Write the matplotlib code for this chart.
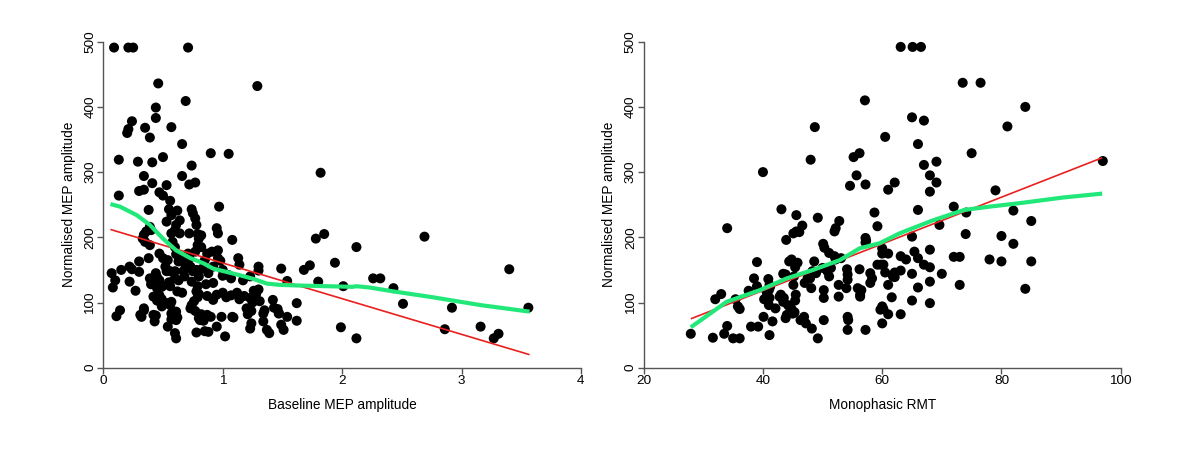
import matplotlib
matplotlib.use("Agg")
import matplotlib.pyplot as plt

plt.rcParams['font.family'] = ['Liberation Sans', 'DejaVu Sans']

# ---------------- Left panel data: Baseline MEP amplitude vs normalised MEP ----------------
base_x = [
    0.09, 0.21, 0.25, 0.71, 0.46, 1.29, 0.69, 0.44, 0.44, 0.24, 0.21, 0.20, 0.35, 0.57, 0.39, 0.66,
    0.13, 0.29, 0.41, 0.50, 0.74, 0.90, 1.05, 1.82, 0.34, 0.66, 0.41, 0.53, 0.72, 0.77, 0.30, 0.34,
    0.47, 0.50, 0.56, 0.13,
    0.97, 0.38, 0.55, 0.62, 0.74, 0.57, 0.64, 0.75, 0.77, 0.53, 0.61, 0.78, 0.39, 0.36, 0.40, 0.34,
    0.60, 0.64, 0.57, 0.72, 0.95, 0.96, 1.85, 2.69, 0.79, 0.82,
    1.08, 0.33, 0.35, 0.39, 0.58, 0.60, 0.80, 0.79, 0.82, 1.78, 2.12, 0.47, 0.50, 0.71, 0.77, 0.61,
    0.64, 0.63, 0.54, 0.38, 0.30, 0.87, 0.91, 0.96, 0.96, 0.98, 1.13, 1.94, 1.73, 0.68, 0.85, 0.72,
    0.22, 0.24, 0.15, 0.07, 0.30, 0.53, 0.56, 0.60, 0.67, 0.71, 0.75, 0.78, 0.73, 0.39, 0.45, 0.47,
    0.60, 0.63, 0.55, 0.10, 0.22, 1.14, 1.30, 1.30, 1.49, 1.54, 1.68, 1.80, 2.01, 2.26, 2.32, 1.00,
    1.05, 1.00, 1.07, 1.17, 1.23, 0.74, 0.86, 0.92, 0.83, 0.88, 0.92, 3.40, 0.68, 0.52, 0.44, 0.80,
    0.08, 0.27, 0.40, 0.45, 0.49, 0.47, 0.49, 0.42, 0.62, 0.66, 0.78, 0.79, 0.79, 0.80, 0.87, 0.95,
    1.00, 1.07, 1.12, 1.14, 1.18, 1.23, 1.28, 1.25, 1.31, 1.42, 1.62, 0.45, 2.43, 1.26, 1.30, 0.76,
    0.92, 1.03, 0.56,
    0.54, 0.57, 0.56, 0.49, 0.74, 0.57, 0.61, 0.57, 0.62, 0.34, 0.32, 0.44, 0.43, 0.54, 0.60, 0.61,
    0.14, 0.11, 0.31, 0.34, 0.78, 0.73, 0.77, 0.82, 0.90, 0.84, 0.80, 0.99, 1.08, 1.20, 1.24, 1.21,
    1.34, 1.46, 1.47, 1.54, 1.24, 1.23, 1.34, 1.37, 1.39, 1.49, 1.51, 0.85, 0.95, 1.02, 1.62, 1.99,
    2.12, 2.51, 2.92, 3.56, 2.86, 3.16, 3.27, 3.31, 0.61, 0.88, 0.81, 0.87, 1.09, 1.35, 1.43, 1.47,
    0.49, 0.42,
]
base_y = [
    491, 491, 491, 491, 436, 432, 409, 399, 383, 378, 366, 360, 368, 369, 353, 343,
    319, 316, 315, 323, 310, 329, 328, 299, 294, 294, 283, 280, 281, 284, 271, 273,
    269, 264, 256, 264,
    247, 242, 243, 241, 243, 234, 226, 237, 229, 224, 219, 219, 216, 209, 211, 204,
    211, 206, 206, 206, 214, 206, 205, 201, 205, 203,
    196, 198, 193, 188, 193, 185, 198, 188, 185, 198, 185, 175, 168, 175, 178, 174,
    169, 163, 165, 168, 163, 175, 178, 180, 168, 164, 168, 161, 157, 160, 165, 168,
    155, 151, 150, 145, 147, 148, 148, 148, 148, 157, 148, 150, 155, 137, 139, 134,
    137, 134, 131, 134, 132, 158, 155, 149, 152, 133, 150, 132, 125, 137, 137, 150,
    142, 141, 137, 134, 140, 132, 128, 130, 152, 145, 155, 151, 140, 155, 145, 140,
    123, 118, 128, 122, 124, 111, 105, 109, 117, 115, 117, 108, 125, 113, 110, 112,
    115, 111, 115, 105, 110, 107, 113, 100, 102, 104, 99, 103, 122, 118, 120, 102,
    104, 108, 125,
    99, 101, 96, 96, 96, 83, 86, 74, 77, 91, 78, 80, 71, 63, 53, 45,
    88, 79, 81, 88, 54, 91, 87, 82, 78, 72, 76, 78, 78, 91, 87, 82,
    83, 90, 83, 78, 68, 60, 71, 58, 53, 66, 58, 56, 63, 48, 72, 62,
    45, 98, 92, 92, 59, 63, 45, 52, 73, 55, 73, 81, 77, 88, 92, 84,
    94, 81,
]

# linear fit (red) and loess smooth (green)
base_lm_x = [0.06, 3.57]
base_lm_y = [212, 20]
base_lo_x = [0.06, 0.14, 0.28, 0.39, 0.50, 0.61, 0.73, 0.84, 0.92, 1.03, 1.14, 1.26, 1.37, 1.48,
             1.65, 1.87, 2.09, 2.12, 2.23, 2.43, 2.76, 3.16, 3.57]
base_lo_y = [251, 247, 234, 219, 198, 180, 168, 160, 152, 147, 142, 136, 129, 127,
             126, 125, 124, 125, 123, 117, 108, 96, 86]

# ---------------- Right panel data: Monophasic RMT vs normalised MEP ----------------
rmt_x = [
    27.9, 31.6, 32.0, 33.0, 33.5, 34.0, 34.0, 35.0, 36.1, 35.4, 35.8, 36.1, 37.6, 38.0, 39.2, 38.5,
    39.0, 39.0, 40.0, 40.1, 40.2, 40.7, 40.9, 41.1, 41.0, 41.1, 41.6, 41.1, 41.0, 42.1, 43.1, 43.0,
    43.5, 43.4, 43.8, 43.9, 44.0, 44.5, 45.0, 45.3, 44.4, 44.8, 45.4, 45.8, 45.1, 45.6, 46.1, 46.6,
    45.6, 45.2, 45.1, 45.5, 45.4, 46.3, 46.9, 47.2, 47.5, 47.0, 47.9, 48.0, 48.7, 48.1, 48.2, 48.6,
    49.2, 49.2, 48.3, 48.9, 50.0, 50.2, 50.2, 50.2, 50.1, 50.3, 50.8, 51.1, 51.4, 51.1, 52.0, 52.2,
    52.8, 52.0, 52.2, 53.1, 52.7, 52.7, 54.1, 54.2, 54.2, 54.0, 54.2, 54.3, 54.2, 54.6, 55.2, 56.2,
    55.7, 56.2, 55.9, 56.5, 56.3, 56.3, 57.1, 57.2, 57.2, 57.3, 57.2, 57.2, 58.0, 58.3, 58.0, 58.7,
    59.2, 59.2, 59.8, 59.7, 42.8, 43.4, 44.2, 44.8, 43.8, 40.6, 41.2,
    63.1, 65.1, 66.5, 73.5, 76.5, 84.0, 65.0, 67.0, 81.0, 60.5, 66.0, 75.0, 67.0, 69.1, 68.0, 69.1,
    68.0, 62.1, 61.0, 79.0, 97.0, 72.0, 66.0, 74.1, 82.0, 85.0, 69.6, 65.0, 74.0, 80.0, 82.0, 68.0,
    65.4, 66.0, 63.1, 64.0, 72.0, 73.0, 78.0, 80.0, 85.0, 67.0, 68.0, 60.0, 60.0, 61.0, 60.2, 60.5,
    62.1, 63.1, 61.8, 65.0, 70.0, 61.0, 62.1, 68.0, 66.0, 73.0, 84.0, 61.6, 65.0, 68.0, 60.0, 60.2,
    61.0, 63.1, 60.0,
]
rmt_y = [
    52, 46, 105, 113, 52, 64, 214, 45, 45, 105, 94, 90, 118, 63, 63, 137,
    162, 125, 300, 78, 105, 112, 136, 127, 119, 50, 71, 107, 96, 91, 243, 112,
    107, 144, 143, 196, 81, 85, 83, 85, 163, 166, 154, 161, 206, 209, 208, 218,
    234, 140, 127, 112, 103, 73, 78, 68, 138, 130, 137, 319, 369, 122, 60, 163,
    230, 45, 148, 145, 153, 73, 107, 119, 190, 184, 148, 140, 153, 176, 209, 214,
    225, 171, 166, 168, 109, 127, 151, 143, 135, 122, 78, 73, 58, 279, 323, 329,
    295, 151, 122, 119, 112, 109, 410, 281, 199, 195, 192, 58, 145, 137, 130, 238,
    217, 158, 158, 89, 109, 101, 96, 90, 76, 117, 124,
    492, 492, 492, 437, 437, 400, 384, 379, 370, 354, 343, 329, 311, 316, 295, 284,
    270, 284, 273, 272, 317, 247, 242, 238, 241, 225, 219, 201, 205, 202, 190, 181,
    178, 168, 171, 166, 170, 170, 166, 163, 163, 158, 154, 183, 175, 175, 158, 146,
    146, 149, 140, 144, 144, 127, 139, 132, 123, 127, 121, 108, 103, 99, 94, 90,
    82, 82, 68,
]

rmt_lm_x = [27.9, 96.9]
rmt_lm_y = [75, 322]
rmt_lo_x = [27.9, 33.9, 39.5, 44.0, 48.4, 52.9, 56.2, 59.6, 62.9, 68.5, 73.8, 78.0, 83.6, 90.3, 96.9]
rmt_lo_y = [62, 101, 119, 137, 150, 165, 183, 191, 206, 226, 242, 247, 253, 261, 267]

# ---------------- Figure ----------------
W, H = 1197, 458
fig = plt.figure(figsize=(W / 100, H / 100), dpi=100)

def px_axes(x0, x1, y_top, y_bot):
    return fig.add_axes([x0 / W, 1 - y_bot / H, (x1 - x0) / W, (y_bot - y_top) / H])

ax1 = px_axes(103.3, 580.9, 41.7, 367.7)
ax2 = px_axes(643.7, 1120.7, 41.7, 367.7)

RED = '#E8201E'
GREEN = '#22E87A'
AXC = '#555555'

panels = [
    (ax1, base_x, base_y, base_lm_x, base_lm_y, base_lo_x, base_lo_y,
     (0, 4), [0, 1, 2, 3, 4], 'Baseline MEP amplitude'),
    (ax2, rmt_x, rmt_y, rmt_lm_x, rmt_lm_y, rmt_lo_x, rmt_lo_y,
     (20, 100), [20, 40, 60, 80, 100], 'Monophasic RMT'),
]

for ax, xs, ys, lmx, lmy, lox, loy, xlim, xticks, xlabel in panels:
    ax.scatter(xs, ys, s=52, c='black', edgecolors='none', zorder=2, clip_on=False)
    ax.plot(lmx, lmy, color=RED, lw=1.2, zorder=3, solid_capstyle='butt')
    ax.plot(lox, loy, color=GREEN, lw=3.0, zorder=4, solid_capstyle='butt')
    ax.set_xlim(*xlim)
    ax.set_ylim(0, 500)
    ax.set_xticks(xticks)
    ax.set_yticks([0, 100, 200, 300, 400, 500])
    for s in ('top', 'right'):
        ax.spines[s].set_visible(False)
    for s in ('left', 'bottom'):
        ax.spines[s].set_color(AXC)
        ax.spines[s].set_linewidth(1.0)
    ax.tick_params(axis='x', direction='out', length=4.0, width=1.0, color=AXC,
                   labelsize=9.7, labelcolor='black', pad=1.5)
    ax.tick_params(axis='y', direction='out', length=4.3, width=1.0, color=AXC,
                   labelsize=9.7, labelcolor='black', pad=0.6)
    for lab in ax.get_yticklabels():
        lab.set_rotation(90)
        lab.set_va('center')
    ax.set_xlabel(xlabel, fontsize=9.8)
    ax.set_ylabel('Normalised MEP amplitude', fontsize=9.8)
    ax.xaxis.set_label_coords(0.5, -0.092)
    ax.yaxis.set_label_coords(-0.058, 0.5)
    ax.patch.set_alpha(0)

fig.savefig('out.png', dpi=100, facecolor='white')
